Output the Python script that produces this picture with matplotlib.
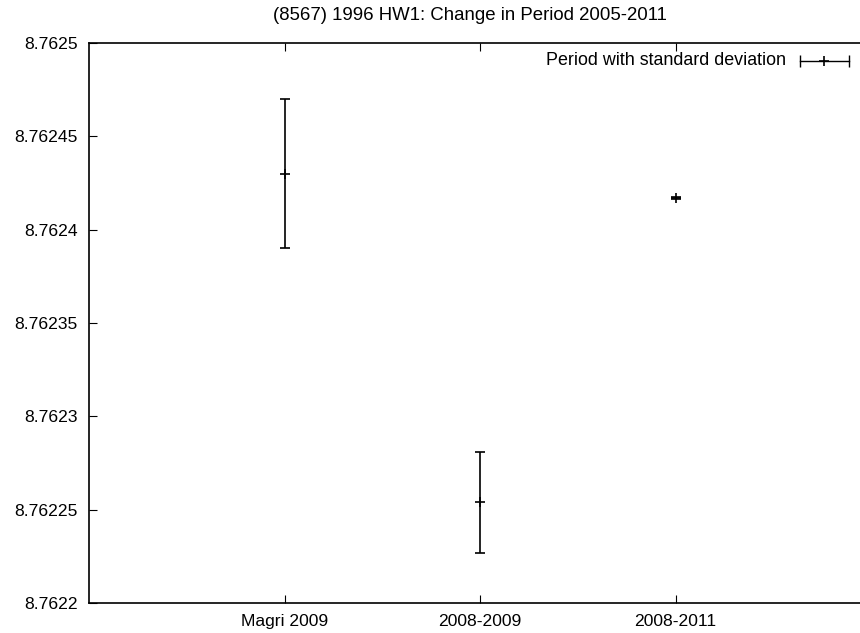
import matplotlib
matplotlib.use("Agg")
import matplotlib.pyplot as plt
from matplotlib.ticker import FixedLocator, FuncFormatter

plt.rcParams['font.family'] = ['Liberation Sans', 'DejaVu Sans']

categories = ["Magri 2009", "2008-2009", "2008-2011"]
periods = [8.76243, 8.762254, 8.7624168]
errors = [0.00004, 0.000027, 0.0000005]
yticks = [8.7622, 8.76225, 8.7623, 8.76235, 8.7624, 8.76245, 8.7625]
title = "(8567) 1996 HW1: Change in Period 2005-2011"
legend_label = "Period with standard deviation"

W, H = 860, 633
fig = plt.figure(figsize=(W / 100, H / 100), dpi=100)
left, right, top, bottom = 89, 89 + 4 * 195.5, 43, 603
ax = fig.add_axes([left / W, 1 - bottom / H, (right - left) / W, (bottom - top) / H])

xs = list(range(1, len(categories) + 1))
ax.errorbar(xs, periods, yerr=errors, fmt='+', color='black', ecolor='black',
            elinewidth=1.2, capsize=3.3, capthick=1.2, markersize=7, mew=1.2)

ax.set_xlim(0, 4)
ax.set_ylim(8.7622, 8.7625)
ax.xaxis.set_major_locator(FixedLocator(xs))
ax.set_xticklabels(categories)
ax.yaxis.set_major_locator(FixedLocator(yticks))
ax.yaxis.set_major_formatter(FuncFormatter(lambda v, p: "%g" % v))
ax.tick_params(direction='in', length=6, width=0.8, labelsize=12.6,
               top=True, right=True, pad=8)
for s in ax.spines.values():
    s.set_linewidth(1.2)

fig.text(470 / W, 1 - 15 / H, title, ha='center', va='center', fontsize=13.4)

# legend (top right, gnuplot style)
fig.text(786 / W, 1 - 60.5 / H, legend_label, ha='right', va='center', fontsize=12.9)
ly = 1 - 60.7 / H
fig.add_artist(plt.Line2D([800 / W, 849 / W], [ly, ly], color='black', lw=1.0))
fig.add_artist(plt.Line2D([800 / W, 849 / W], [ly, ly], color='black', lw=0,
                          marker='|', markersize=8, mew=1.0))
fig.add_artist(plt.Line2D([824 / W], [ly], color='black', lw=0,
                          marker='+', markersize=7, mew=1.2))

fig.savefig("out.png", dpi=100)
